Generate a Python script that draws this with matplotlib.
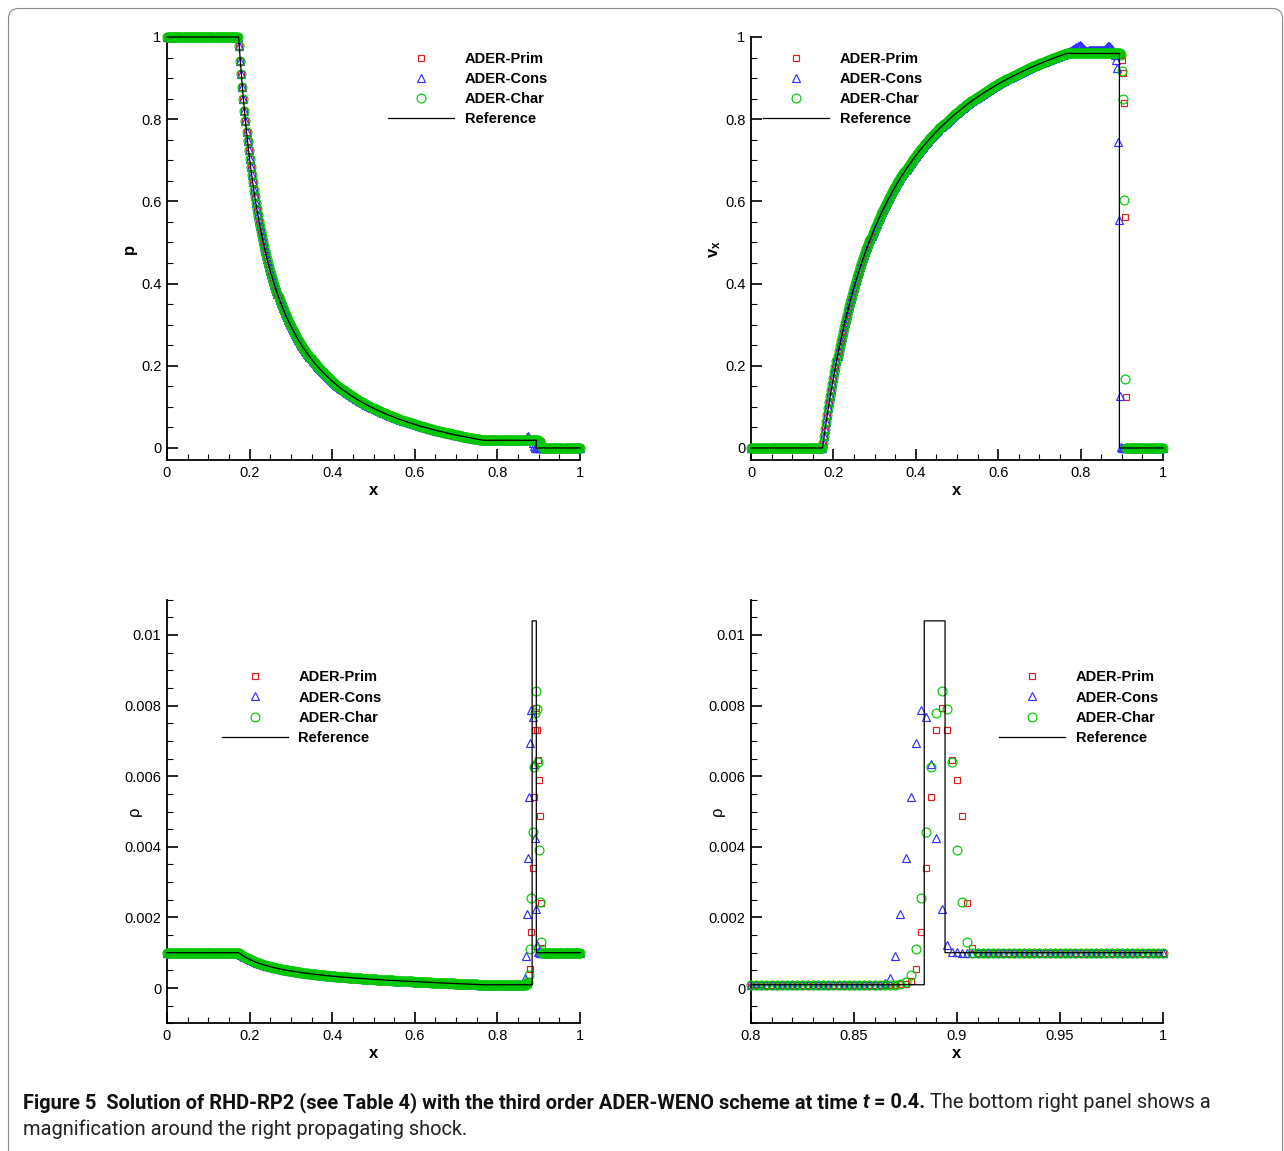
import numpy as np
import matplotlib
matplotlib.use("Agg")
import matplotlib.pyplot as plt
from matplotlib.ticker import MultipleLocator, FuncFormatter
from matplotlib.patches import FancyBboxPatch
from matplotlib.transforms import IdentityTransform
from matplotlib.font_manager import FontProperties, findfont

W, H, DPI = 1284, 1151, 100

# ---------------------------------------------------------------- data
# mesh: nodes x_i = i / 400
N_MESH = 400
LEFT_NODES = (0, 70)          # left state
FAN_NODES = (70, 307)         # rarefaction fan
WIN_NODES = (307, 369)        # plateau + contact + shock window (per method)
RIGHT_NODES = (369, 401)      # right state

P_LEFT, V_LEFT, RHO_LEFT = 1.0, 0.0, 0.001
P_RIGHT, V_RIGHT, RHO_RIGHT = 0.0, 0.0, 0.001

# fan, x = 0.175 ... 0.2975
P_FAN_HEAD = [0.9778, 0.9423, 0.9091, 0.8778, 0.8485, 0.8208, 0.7947, 0.7700, 0.7466, 0.7244,
              0.7034, 0.6834, 0.6643, 0.6462, 0.6289, 0.6124, 0.5965, 0.5814, 0.5669, 0.5530,
              0.5397, 0.5269, 0.5146, 0.5028, 0.4914, 0.4804, 0.4699, 0.4597, 0.4498, 0.4403,
              0.4311, 0.4223, 0.4137, 0.4054, 0.3973, 0.3895, 0.3820, 0.3746, 0.3675, 0.3606,
              0.3539, 0.3474, 0.3411, 0.3349, 0.3290, 0.3231, 0.3175, 0.3119, 0.3066, 0.3013]
V_FAN_HEAD = [0.0110, 0.0291, 0.0467, 0.0638, 0.0803, 0.0965, 0.1121, 0.1274, 0.1422, 0.1566,
              0.1707, 0.1844, 0.1977, 0.2107, 0.2234, 0.2358, 0.2478, 0.2596, 0.2711, 0.2823,
              0.2933, 0.3040, 0.3144, 0.3247, 0.3347, 0.3444, 0.3540, 0.3634, 0.3726, 0.3815,
              0.3903, 0.3989, 0.4073, 0.4156, 0.4237, 0.4316, 0.4394, 0.4470, 0.4545, 0.4618,
              0.4690, 0.4761, 0.4830, 0.4898, 0.4965, 0.5031, 0.5096, 0.5159, 0.5221, 0.5282]
RHO_FAN_HEAD_E4 = [9.87, 9.65, 9.44, 9.25, 9.06, 8.88, 8.71, 8.55, 8.39, 8.24,
                   8.10, 7.96, 7.82, 7.70, 7.57, 7.45, 7.33, 7.22, 7.11, 7.01,
                   6.91, 6.81, 6.71, 6.62, 6.53, 6.44, 6.36, 6.27, 6.19, 6.11,
                   6.04, 5.96, 5.89, 5.82, 5.75, 5.68, 5.61, 5.55, 5.48, 5.42,
                   5.36, 5.30, 5.24, 5.19, 5.13, 5.08, 5.02, 4.97, 4.92, 4.87]

# fan, x = 0.30 ... 0.765
P_FAN_TAIL = [0.2962, 0.2913, 0.2864, 0.2817, 0.2771, 0.2726, 0.2681, 0.2638, 0.2596, 0.2555,
              0.2515, 0.2476, 0.2438, 0.2400, 0.2363, 0.2327, 0.2292, 0.2258, 0.2224, 0.2191,
              0.2159, 0.2127, 0.2096, 0.2065, 0.2035, 0.2006, 0.1977, 0.1949, 0.1921, 0.1894,
              0.1868, 0.1842, 0.1816, 0.1791, 0.1766, 0.1742, 0.1718, 0.1694, 0.1671, 0.1648,
              0.1626, 0.1604, 0.1582, 0.1561, 0.1540, 0.1520, 0.1500, 0.1480, 0.1460, 0.1441,
              0.1422, 0.1403, 0.1385, 0.1367, 0.1349, 0.1331, 0.1314, 0.1297, 0.1280, 0.1264,
              0.1248, 0.1232, 0.1216, 0.1200, 0.1185, 0.1170, 0.1155, 0.1140, 0.1125, 0.1111,
              0.1097, 0.1083, 0.1069, 0.1055, 0.1042, 0.1029, 0.1016, 0.1003, 0.0990, 0.0977,
              0.0965, 0.0953, 0.0941, 0.0929, 0.0917, 0.0905, 0.0894, 0.0883, 0.0872, 0.0861,
              0.0850, 0.0839, 0.0828, 0.0817, 0.0807, 0.0797, 0.0787, 0.0777, 0.0767, 0.0757,
              0.0747, 0.0737, 0.0728, 0.0718, 0.0709, 0.0700, 0.0691, 0.0682, 0.0673, 0.0664,
              0.0655, 0.0646, 0.0638, 0.0629, 0.0621, 0.0613, 0.0605, 0.0597, 0.0589, 0.0581,
              0.0573, 0.0565, 0.0558, 0.0550, 0.0543, 0.0535, 0.0528, 0.0520, 0.0513, 0.0506,
              0.0499, 0.0492, 0.0485, 0.0478, 0.0471, 0.0464, 0.0458, 0.0451, 0.0445, 0.0438,
              0.0432, 0.0425, 0.0419, 0.0413, 0.0407, 0.0400, 0.0394, 0.0388, 0.0382, 0.0376,
              0.0371, 0.0365, 0.0359, 0.0353, 0.0348, 0.0342, 0.0336, 0.0330, 0.0325, 0.0320,
              0.0315, 0.0309, 0.0304, 0.0299, 0.0294, 0.0288, 0.0283, 0.0278, 0.0273, 0.0268,
              0.0263, 0.0258, 0.0254, 0.0249, 0.0244, 0.0239, 0.0235, 0.0230, 0.0225, 0.0220,
              0.0216, 0.0211, 0.0207, 0.0202, 0.0198, 0.0194, 0.0190]
V_FAN_TAIL = [0.5342, 0.5401, 0.5459, 0.5516, 0.5572, 0.5627, 0.5682, 0.5735, 0.5788, 0.5839,
              0.5890, 0.5940, 0.5990, 0.6038, 0.6086, 0.6133, 0.6180, 0.6225, 0.6270, 0.6314,
              0.6358, 0.6401, 0.6443, 0.6485, 0.6526, 0.6567, 0.6607, 0.6646, 0.6685, 0.6724,
              0.6762, 0.6799, 0.6836, 0.6872, 0.6908, 0.6943, 0.6978, 0.7013, 0.7047, 0.7080,
              0.7113, 0.7146, 0.7179, 0.7211, 0.7242, 0.7273, 0.7304, 0.7334, 0.7364, 0.7394,
              0.7423, 0.7452, 0.7481, 0.7509, 0.7537, 0.7564, 0.7591, 0.7618, 0.7645, 0.7671,
              0.7697, 0.7723, 0.7748, 0.7774, 0.7799, 0.7823, 0.7847, 0.7871, 0.7895, 0.7919,
              0.7942, 0.7965, 0.7988, 0.8011, 0.8033, 0.8055, 0.8077, 0.8099, 0.8120, 0.8141,
              0.8162, 0.8183, 0.8203, 0.8224, 0.8244, 0.8264, 0.8284, 0.8303, 0.8322, 0.8342,
              0.8361, 0.8380, 0.8398, 0.8417, 0.8435, 0.8453, 0.8471, 0.8489, 0.8506, 0.8524,
              0.8541, 0.8558, 0.8575, 0.8592, 0.8608, 0.8625, 0.8641, 0.8657, 0.8673, 0.8689,
              0.8705, 0.8721, 0.8736, 0.8752, 0.8767, 0.8782, 0.8797, 0.8812, 0.8826, 0.8841,
              0.8855, 0.8870, 0.8884, 0.8898, 0.8912, 0.8926, 0.8939, 0.8953, 0.8966, 0.8980,
              0.8993, 0.9007, 0.9020, 0.9033, 0.9045, 0.9058, 0.9071, 0.9084, 0.9096, 0.9108,
              0.9120, 0.9133, 0.9145, 0.9157, 0.9169, 0.9181, 0.9192, 0.9204, 0.9215, 0.9227,
              0.9238, 0.9250, 0.9261, 0.9272, 0.9283, 0.9294, 0.9305, 0.9316, 0.9326, 0.9337,
              0.9347, 0.9358, 0.9368, 0.9379, 0.9389, 0.9399, 0.9409, 0.9419, 0.9429, 0.9439,
              0.9449, 0.9459, 0.9468, 0.9478, 0.9487, 0.9497, 0.9506, 0.9516, 0.9525, 0.9535,
              0.9544, 0.9553, 0.9562, 0.9571, 0.9580, 0.9589, 0.9597]
RHO_FAN_TAIL_E4 = [4.82, 4.77, 4.72, 4.675, 4.63, 4.585, 4.54, 4.495, 4.45, 4.41,
                   4.37, 4.33, 4.29, 4.25, 4.21, 4.17, 4.13, 4.095, 4.06, 4.025,
                   3.99, 3.955, 3.92, 3.885, 3.85, 3.815, 3.78, 3.75, 3.72, 3.685,
                   3.65, 3.62, 3.59, 3.56, 3.53, 3.50, 3.47, 3.445, 3.42, 3.39,
                   3.36, 3.335, 3.31, 3.28, 3.25, 3.225, 3.20, 3.175, 3.15, 3.125,
                   3.10, 3.075, 3.05, 3.03, 3.01, 2.985, 2.96, 2.935, 2.91, 2.89,
                   2.87, 2.845, 2.82, 2.80, 2.78, 2.76, 2.74, 2.72, 2.70, 2.675,
                   2.65, 2.63, 2.61, 2.595, 2.58, 2.56, 2.54, 2.52, 2.50, 2.48,
                   2.46, 2.44, 2.42, 2.40, 2.38, 2.365, 2.35, 2.33, 2.31, 2.295,
                   2.28, 2.26, 2.24, 2.225, 2.21, 2.19, 2.17, 2.155, 2.14, 2.125,
                   2.11, 2.095, 2.08, 2.06, 2.04, 2.025, 2.01, 1.995, 1.98, 1.965,
                   1.95, 1.935, 1.92, 1.905, 1.89, 1.875, 1.86, 1.845, 1.83, 1.815,
                   1.80, 1.785, 1.77, 1.755, 1.74, 1.725, 1.71, 1.695, 1.68, 1.67,
                   1.66, 1.645, 1.63, 1.615, 1.60, 1.585, 1.57, 1.555, 1.54, 1.53,
                   1.52, 1.505, 1.49, 1.475, 1.46, 1.45, 1.44, 1.425, 1.41, 1.395,
                   1.38, 1.37, 1.36, 1.345, 1.33, 1.32, 1.31, 1.295, 1.28, 1.265,
                   1.25, 1.24, 1.23, 1.215, 1.20, 1.19, 1.18, 1.165, 1.15, 1.14,
                   1.13, 1.115, 1.10, 1.09, 1.08, 1.065, 1.05, 1.04, 1.03, 1.015,
                   1.00, 0.988, 0.977, 0.964, 0.951, 0.938, 0.926]

# window x = 0.7675 ... 0.92 (62 nodes), per method
P_PRIM_WIN = [0.0187] * 53 + [0.0180, 0.0165, 0.0135, 0.0075, 0.0015] + [0.0] * 4
P_CONS_WIN = [0.0187] * 41 + [0.022, 0.027, 0.028, 0.024, 0.020, 0.019, 0.012, 0.004, 0.0, 0.0, 0.0] + [0.0] * 10
P_CHAR_WIN = [0.0187] * 52 + [0.0182, 0.0170, 0.0135, 0.0070, 0.0015] + [0.0] * 5

V_PRIM_WIN = [0.960] * 52 + [0.955, 0.944, 0.913, 0.840, 0.563, 0.125] + [0.0] * 4
V_CONS_WIN = ([0.962, 0.963, 0.964, 0.965, 0.966, 0.968, 0.970, 0.972, 0.974, 0.976, 0.978,
               0.979, 0.980, 0.978, 0.975, 0.972, 0.970, 0.968, 0.967, 0.966, 0.966]
              + [0.968] * 16
              + [0.970, 0.972, 0.975, 0.978, 0.978, 0.975, 0.970, 0.965]
              + [0.962, 0.955, 0.945, 0.924, 0.745, 0.555, 0.127, 0.003] + [0.0] * 9)
V_CHAR_WIN = [0.960] * 52 + [0.955, 0.918, 0.848, 0.603, 0.167] + [0.0] * 5

RHO_PRIM_WIN = ([9.2e-5] * 42
                + [1.0e-4, 1.13e-4, 1.98e-4, 5.29e-4, 1.577e-3, 3.39e-3, 5.41e-3, 7.31e-3,
                   7.92e-3, 7.31e-3, 6.47e-3, 5.89e-3, 4.88e-3, 2.40e-3, 1.14e-3]
                + [1.0e-3] * 5)
RHO_CONS_WIN = ([9.2e-5] * 39
                + [1.5e-4, 2.93e-4, 9.07e-4, 2.09e-3, 3.67e-3, 5.41e-3, 6.95e-3, 7.88e-3,
                   7.69e-3, 6.34e-3, 4.25e-3, 2.23e-3, 1.22e-3, 1.03e-3, 1.02e-3]
                + [1.0e-3] * 8)
RHO_CHAR_WIN = ([9.2e-5] * 42
                + [1.1e-4, 1.6e-4, 3.68e-4, 1.11e-3, 2.55e-3, 4.41e-3, 6.27e-3, 7.78e-3,
                   8.42e-3, 7.90e-3, 6.39e-3, 3.91e-3, 2.43e-3, 1.29e-3]
                + [1.0e-3] * 6)

# reference (exact) solution: wave positions and states
X_HEAD, X_TAIL, X_CONTACT, X_SHOCK = 0.1735, 0.7675, 0.8841, 0.8942
P_STAR, V_STAR, RHO_STAR, RHO_SHELL = 0.0187, 0.960, 9.2e-5, 0.0104

METHODS = ["ADER-Prim", "ADER-Cons", "ADER-Char"]
REF_LABEL = "Reference"

X_TICKS_FULL = [0, 0.2, 0.4, 0.6, 0.8, 1]
X_TICKS_ZOOM = [0.8, 0.85, 0.9, 0.95, 1]
Y_TICKS_TOP = [0, 0.2, 0.4, 0.6, 0.8, 1]
Y_TICKS_RHO = [0, 0.002, 0.004, 0.006, 0.008, 0.01]

CAPTION_B1 = "Figure 5  Solution of RHD-RP2 (see Table 4) with the third order ADER-WENO scheme at time"
CAPTION_I = "t"
CAPTION_B2 = "= 0.4."
CAPTION_R1 = "The bottom right panel shows a"
CAPTION_R2 = "magnification around the right propagating shock."

# ---------------------------------------------------------------- assemble
def nodes(spec):
    return np.arange(*spec) / N_MESH

x_left, x_fan = nodes(LEFT_NODES), nodes(FAN_NODES)
x_win, x_right = nodes(WIN_NODES), nodes(RIGHT_NODES)
x_all = np.concatenate([x_left, x_fan, x_win, x_right])

p_fan = np.concatenate([P_FAN_HEAD, P_FAN_TAIL])
v_fan = np.concatenate([V_FAN_HEAD, V_FAN_TAIL])
r_fan = np.concatenate([RHO_FAN_HEAD_E4, RHO_FAN_TAIL_E4]) * 1e-4


def series(left, fan, win, right):
    return np.concatenate([[left] * len(x_left), fan, win, [right] * len(x_right)])


P = [series(P_LEFT, p_fan, w, P_RIGHT) for w in (P_PRIM_WIN, P_CONS_WIN, P_CHAR_WIN)]
V = [series(V_LEFT, v_fan, w, V_RIGHT) for w in (V_PRIM_WIN, V_CONS_WIN, V_CHAR_WIN)]
R = [series(RHO_LEFT, r_fan, w, RHO_RIGHT) for w in (RHO_PRIM_WIN, RHO_CONS_WIN, RHO_CHAR_WIN)]

ref_x = np.concatenate([[0.0, X_HEAD], x_fan, [X_TAIL, X_CONTACT, X_CONTACT, X_SHOCK, X_SHOCK, 1.0]])
ref_p = np.concatenate([[P_LEFT, P_LEFT], p_fan, [P_STAR] * 4 + [P_RIGHT, P_RIGHT]])
ref_v = np.concatenate([[V_LEFT, V_LEFT], v_fan, [V_STAR] * 4 + [V_RIGHT, V_RIGHT]])
ref_r = np.concatenate([[RHO_LEFT, RHO_LEFT], r_fan,
                        [RHO_STAR, RHO_STAR, RHO_SHELL, RHO_SHELL, RHO_RIGHT, RHO_RIGHT]])

# ---------------------------------------------------------------- style
RED, BLUE, GREEN = "#e02020", "#3030ff", "#00c800"
STYLES = [dict(marker="s", ms=4.5, mec=RED),
          dict(marker="^", ms=5.4, mec=BLUE),
          dict(marker="o", ms=6.4, mec=GREEN)]
SANS = "Liberation Sans"
plt.rcParams["font.family"] = [SANS, "DejaVu Sans"]
plt.rcParams["mathtext.fontset"] = "custom"
plt.rcParams["mathtext.rm"] = SANS
plt.rcParams["mathtext.bf"] = SANS + ":bold"

fig = plt.figure(figsize=(W / DPI, H / DPI), dpi=DPI)


def px_axes(x0, x1, ytop, ybot):
    return fig.add_axes([x0 / W, 1 - ybot / H, (x1 - x0) / W, (ybot - ytop) / H])


def fmt(v, pos):
    return "0" if abs(v) < 1e-12 else ("%.6g" % v)


def panel(ax, ys, yref, xlim, ylim, xticks, xminor, yticks, yminor, ylabel, ylabel_kw,
          ylabel_x, leg_anchor, clip_ref):
    mask = x_all >= xlim[0] - 1e-9
    handles = []
    for y, st, lab in zip(ys, STYLES, METHODS):
        h, = ax.plot(x_all[mask], np.asarray(y)[mask], ls="none", mfc="none", mew=0.85,
                     clip_on=False, label=lab, zorder=3, **st)
        handles.append(h)
    h, = ax.plot(ref_x, yref, color="black", lw=0.9, label=REF_LABEL, clip_on=clip_ref, zorder=4)
    handles.append(h)
    ax.set_xlim(*xlim)
    ax.set_ylim(*ylim)
    ax.set_xticks(xticks)
    ax.set_yticks(yticks)
    ax.xaxis.set_minor_locator(MultipleLocator(xminor))
    ax.yaxis.set_minor_locator(MultipleLocator(yminor))
    ax.xaxis.set_major_formatter(FuncFormatter(fmt))
    ax.yaxis.set_major_formatter(FuncFormatter(fmt))
    for s in ("top", "right"):
        ax.spines[s].set_visible(False)
    for s in ("left", "bottom"):
        ax.spines[s].set_linewidth(1.3)
    ax.tick_params(which="major", direction="in", length=8, width=1.2, labelsize=10.5, pad=4,
                   top=False, right=False)
    ax.tick_params(which="minor", direction="in", length=4.5, width=0.8, top=False, right=False)
    ax.set_xlabel("x", fontsize=12, fontweight="bold")
    ax.xaxis.set_label_coords(0.5, -0.054)
    ax.set_ylabel(ylabel, rotation=90, **ylabel_kw)
    ax.yaxis.set_label_coords(ylabel_x, 0.5)
    ax.legend(handles=handles, loc="upper left", bbox_to_anchor=leg_anchor, frameon=False,
              borderpad=0, borderaxespad=0, handlelength=4.5, handletextpad=0.75,
              labelspacing=0.42, numpoints=1,
              prop=FontProperties(family=SANS, weight="bold", size=10.5))


ax1 = px_axes(167, 580, 37, 460.3)
panel(ax1, P, ref_p, (0, 1), (-0.03, 1.0), X_TICKS_FULL, 0.05, Y_TICKS_TOP, 0.05,
      "p", dict(fontsize=12, fontweight="bold"), -0.073, (0.535, 0.965), False)

ax2 = px_axes(751, 1163, 37, 460.3)
panel(ax2, V, ref_v, (0, 1), (-0.03, 1.0), X_TICKS_FULL, 0.05, Y_TICKS_TOP, 0.05,
      r"$\mathbf{v_x}$", dict(fontsize=12), -0.068, (0.029, 0.965), False)

ax3 = px_axes(167, 580, 599.7, 1023.3)
panel(ax3, R, ref_r, (0, 1), (-0.001, 0.011), X_TICKS_FULL, 0.05, Y_TICKS_RHO, 0.0005,
      "\u03c1", dict(fontsize=12), -0.061, (0.133, 0.833), False)

ax4 = px_axes(751, 1163, 599.7, 1023.3)
panel(ax4, R, ref_r, (0.8, 1.0), (-0.001, 0.011), X_TICKS_ZOOM, 0.01, Y_TICKS_RHO, 0.0005,
      "\u03c1", dict(fontsize=12), -0.063, (0.602, 0.833), True)

# ---------------------------------------------------------------- frame
frame = FancyBboxPatch((8.5, -30), 1274, H - 8.5 + 30, boxstyle="round,pad=0,rounding_size=10",
                       transform=IdentityTransform(), fill=False, edgecolor="#8a8a8a", lw=0.8)
fig.add_artist(frame)

# ---------------------------------------------------------------- caption
def find_family(names):
    for n in names:
        try:
            findfont(FontProperties(family=n), fallback_to_default=False)
            return n
        except Exception:
            continue
    return SANS


CAP_FAM = find_family(["Liberation Sans Narrow", "Roboto", SANS])
fig.canvas.draw()
renderer = fig.canvas.get_renderer()


def put(x_px, y_px, s, **kw):
    return fig.text(x_px / W, 1 - y_px / H, s, ha="left", va="baseline", family=CAP_FAM, **kw)


def wpx(t):
    return t.get_window_extent(renderer).width


probe = put(0, 0, CAPTION_B1 + " " + CAPTION_I + " " + CAPTION_B2, fontsize=14, fontweight="bold")
fs = 14 * 907 / wpx(probe)
probe.remove()
sp1 = put(0, 0, "n n", fontsize=fs)
sp2 = put(0, 0, "nn", fontsize=fs)
space = wpx(sp1) - wpx(sp2)
sp1.remove(); sp2.remove()

x = 23
base1, base2 = 1108, 1135
t = put(x, base1, CAPTION_B1, fontsize=fs, fontweight="bold", color="#111111")
x += wpx(t) + space
t = put(x, base1, CAPTION_I, fontsize=fs, fontweight="bold", fontstyle="italic", color="#111111")
x += wpx(t) + space
t = put(x, base1, CAPTION_B2, fontsize=fs, fontweight="bold", color="#111111")
x += wpx(t) + space
put(x, base1, CAPTION_R1, fontsize=fs, color="#222222")
put(23, base2, CAPTION_R2, fontsize=fs, color="#222222")

fig.savefig("out.png", dpi=DPI)
